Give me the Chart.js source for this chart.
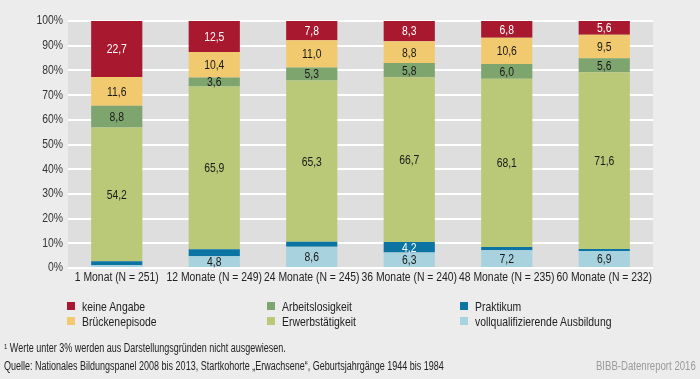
<!DOCTYPE html>
<html>
<head>
<meta charset="utf-8">
<script src="https://cdn.jsdelivr.net/npm/chart.js@4/dist/chart.umd.min.js"></script>
<style>
  html, body { margin: 0; padding: 0; }
  body { width: 700px; height: 379px; background: #ececec; position: relative; overflow: hidden;
         font-family: "Liberation Sans", Arial, sans-serif; color: #222; }
  #wrap { position: absolute; left: 0; top: 0; width: 700px; height: 379px; }
  .leg { position: absolute; font-size: 13px; line-height: 15px; white-space: nowrap; }
  .leg span.sq { position: absolute; left: 0; top: 3px; width: 8px; height: 8px; }
  .leg span.tx { position: absolute; left: 15px; top: 0; display: inline-block; transform: scaleX(0.8); transform-origin: 0 50%; }
  .note { position: absolute; font-size: 12px; line-height: 14px; white-space: nowrap; display: inline-block; transform: scaleX(0.75); }
</style>
</head>
<body>
<div id="wrap"><canvas id="c" width="700" height="379"></canvas></div>
<div id="legend"></div>
<div class="note" style="left:4px; top:340px; transform-origin: 0 50%;"><sup style="font-size:8px; vertical-align: 3px;">1</sup> Werte unter 3% werden aus Darstellungsgründen nicht ausgewiesen.</div>
<div class="note" style="left:4px; top:359px; transform-origin: 0 50%;">Quelle: Nationales Bildungspanel 2008 bis 2013, Startkohorte „Erwachsene“, Geburtsjahrgänge 1944 bis 1984</div>
<div class="note" style="right:4px; top:359px; color:#9a9a9a; transform: scaleX(0.8); transform-origin: 100% 50%;">BIBB-Datenreport 2016</div>
<script>
const categories = ["1 Monat (N = 251)", "12 Monate (N = 249)", "24 Monate (N = 245)", "36 Monate (N = 240)", "48 Monate (N = 235)", "60 Monate (N = 232)"];
const ausbildung   = [1.1, 4.8, 8.6, 6.3, 7.2, 6.9];
const praktikum    = [1.6, 2.8, 2.0, 4.2, 1.3, 0.8];
const erwerb       = [54.2, 65.9, 65.3, 66.7, 68.1, 71.6];
const arbeitslos   = [8.8, 3.6, 5.3, 5.8, 6.0, 5.6];
const bruecke      = [11.6, 10.4, 11.0, 8.8, 10.6, 9.5];
const keineAngabe  = [22.7, 12.5, 7.8, 8.3, 6.8, 5.6];
const yTicks = [0, 10, 20, 30, 40, 50, 60, 70, 80, 90, 100];

const FONT = '"Liberation Sans", Arial, sans-serif';
const SX = 0.83; // horizontal compression to mimic the condensed typeface

const series = [
  { label: "vollqualifizierende Ausbildung", data: ausbildung, color: "#a8d2de", text: "#1a1a1a" },
  { label: "Praktikum", data: praktikum, color: "#0b74a3", text: "#fff" },
  { label: "Erwerbstätigkeit", data: erwerb, color: "#b9c978", text: "#1a1a1a" },
  { label: "Arbeitslosigkeit", data: arbeitslos, color: "#7fa56f", text: "#1a1a1a" },
  { label: "Brückenepisode", data: bruecke, color: "#f1c96f", text: "#1a1a1a" },
  { label: "keine Angabe", data: keineAngabe, color: "#a8192f", text: "#fff" }
];

function drawText(ctx, text, x, y, align, color, size, sx) {
  ctx.save();
  ctx.translate(x, y);
  ctx.scale(sx, 1);
  ctx.font = size + 'px ' + FONT;
  ctx.textAlign = align;
  ctx.textBaseline = 'middle';
  ctx.fillStyle = color;
  ctx.fillText(text, 0, 0);
  ctx.restore();
}

const plotBg = {
  id: 'plotBg',
  beforeDraw(chart) {
    const { ctx, chartArea: a } = chart;
    ctx.save();
    ctx.fillStyle = '#dedede';
    ctx.fillRect(a.left, a.top, a.right - a.left, a.bottom - a.top);
    ctx.restore();
  }
};

const axisText = {
  id: 'axisText',
  afterDraw(chart) {
    const { ctx } = chart;
    const xs = chart.scales.x, ys = chart.scales.y;
    categories.forEach((c, i) => {
      drawText(ctx, c, xs.getPixelForTick(i), chart.chartArea.bottom + 10, 'center', '#222', 12.5, SX);
    });
    yTicks.forEach(v => {
      drawText(ctx, v + '%', chart.chartArea.left - 5, ys.getPixelForValue(v), 'right', '#333', 12.5, SX);
    });
  }
};

const valueLabels = {
  id: 'valueLabels',
  afterDatasetsDraw(chart) {
    const { ctx } = chart;
    chart.data.datasets.forEach((ds, i) => {
      const meta = chart.getDatasetMeta(i);
      meta.data.forEach((bar, j) => {
        const v = ds.data[j];
        if (v < 3) return;
        const yc = (bar.y + bar.base) / 2;
        drawText(ctx, v.toFixed(1).replace('.', ','), bar.x, yc + 1, 'center', series[i].text, 12.5, SX);
      });
    });
  }
};

new Chart(document.getElementById('c'), {
  type: 'bar',
  data: {
    labels: categories,
    datasets: series.map(s => ({
      label: s.label, data: s.data, backgroundColor: s.color, borderWidth: 0,
      barPercentage: 0.525, categoryPercentage: 1.0
    }))
  },
  options: {
    responsive: false,
    animation: false,
    devicePixelRatio: 1,
    layout: { padding: { left: 8, right: 47, top: 21, bottom: 91 } },
    plugins: { legend: { display: false }, tooltip: { enabled: false } },
    scales: {
      x: {
        stacked: true,
        grid: { display: false, drawTicks: false },
        border: { display: false },
        ticks: { display: false },
        afterFit(scale) { scale.height = 20; }
      },
      y: {
        stacked: true,
        min: 0, max: 100,
        afterBuildTicks(scale) { scale.ticks = yTicks.map(v => ({ value: v })); },
        grid: { color: '#ffffff', lineWidth: 2, drawTicks: false },
        border: { display: false },
        ticks: { display: false },
        afterFit(scale) { scale.width = 60; }
      }
    }
  },
  plugins: [plotBg, axisText, valueLabels]
});

// Legend (column-major, 3 columns x 2 rows)
const legendOrder = [
  [series[5], series[4]],
  [series[3], series[2]],
  [series[1], series[0]]
];
const colX = [67, 267, 460];
const rowY = [299, 314];
const legEl = document.getElementById('legend');
legendOrder.forEach((col, ci) => {
  col.forEach((s, ri) => {
    const d = document.createElement('div');
    d.className = 'leg';
    d.style.left = colX[ci] + 'px';
    d.style.top = rowY[ri] + 'px';
    d.innerHTML = '<span class="sq" style="background:' + s.color + '"></span><span class="tx">' + s.label + '</span>';
    legEl.appendChild(d);
  });
});
</script>
</body>
</html>
